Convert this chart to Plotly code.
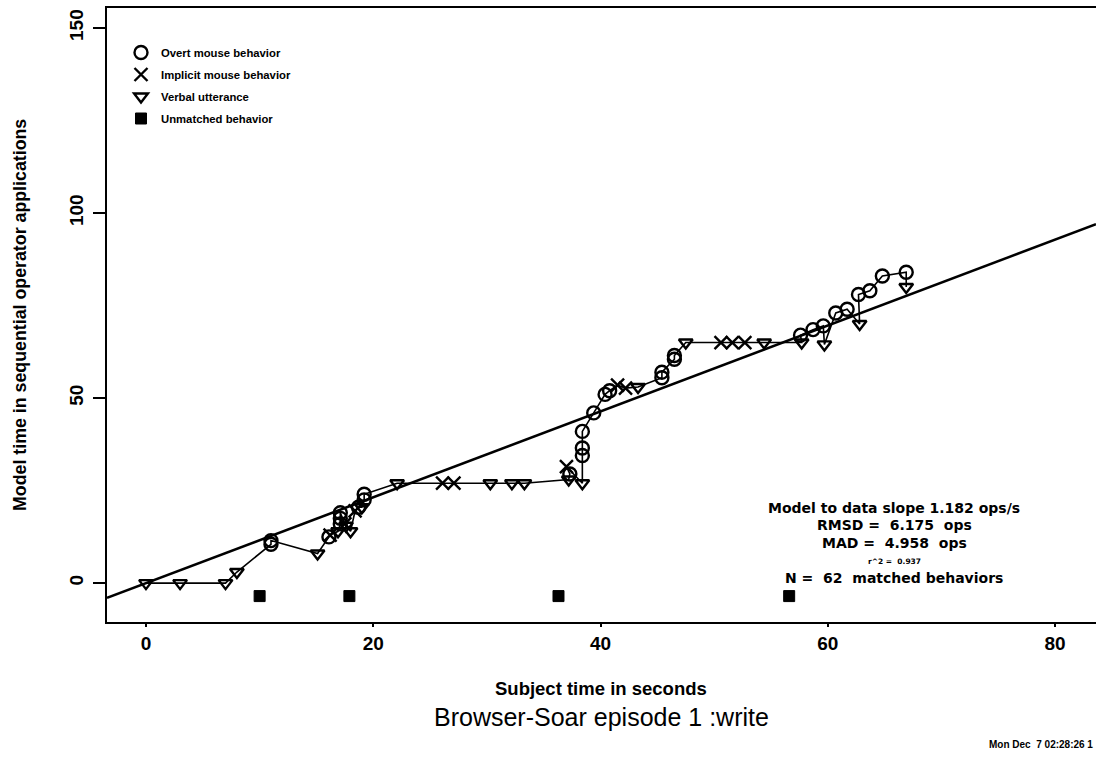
import plotly.graph_objects as go

# ---- data ----
match_time = [0, 3, 7, 8, 11, 11, 15.1, 16.1, 16.2, 16.9, 17.1, 17.1, 17.1, 17.5, 17.6, 18.0,
              18.4, 18.7, 19.0, 19.2, 19.2, 22.1, 26.1, 27.1, 30.3, 32.2, 33.3, 37.2, 37.3, 37.0,
              38.4, 38.4, 38.4, 38.4, 39.4, 40.4, 40.8, 41.5, 42.2, 43.3, 45.4, 45.4, 46.5, 46.5,
              47.5, 50.6, 51.6, 52.7, 54.4, 57.7, 57.6, 58.7, 59.6, 59.7, 60.7, 61.7, 62.8, 62.7,
              63.7, 64.8, 66.9, 66.9]
match_model = [0, 0, 0, 3, 10.5, 11.5, 8, 12.5, 13, 14, 16, 17.5, 19, 16, 15.5, 14,
               19.5, 20.5, 20.5, 22.5, 24, 27, 27, 27, 27, 27, 27, 28, 29.5, 31.5,
               27, 34.5, 36.5, 41, 46, 51, 52, 53.5, 52.7, 53, 55.5, 57, 60.5, 61.5,
               65, 65, 65, 65, 65, 65, 67, 68.5, 69.5, 64.5, 73, 74, 70, 78,
               79, 83, 84, 80]
match_kind = ["V", "V", "V", "V", "O", "O", "V", "O", "X", "V", "O", "O", "O", "X", "V", "V",
              "X", "O", "V", "O", "O", "V", "X", "X", "V", "V", "V", "V", "O", "X",
              "V", "O", "O", "O", "O", "O", "O", "X", "X", "V", "O", "O", "O", "O",
              "V", "X", "X", "X", "V", "V", "O", "O", "O", "V", "O", "O", "V", "O",
              "O", "O", "O", "V"]

unmatched_time = [10.0, 17.9, 36.3, 56.6]
unmatched_model = [-3.5, -3.5, -3.5, -3.5]

fit_slope = 1.16
fit_intercept = 0.0

x_ticks = [0, 20, 40, 60, 80]
y_ticks = [0, 50, 100, 150]
x_range = [-3.43, 83.6]
y_range = [-10.5, 155.4]

kinds = [("O", "Overt mouse behavior", "circle-open", 13),
         ("X", "Implicit mouse behavior", "x-thin-open", 13),
         ("V", "Verbal utterance", "triangle-down-open", 12)]

stats_lines = ["Model to data slope 1.182 ops/s", "RMSD =  6.175  ops", "MAD =  4.958  ops",
               "r^2 =  0.937", "N =  62  matched behaviors"]

FONT = "Liberation Sans, Arial, sans-serif"
WIDE = "DejaVu Sans, sans-serif"

# ---- figure ----
W, H = 1096, 757
L, R, T, B = 107, 0, 8, 135

fig = go.Figure()

# regression line
fig.add_trace(go.Scatter(
    x=x_range, y=[fit_intercept + fit_slope * v for v in x_range],
    mode="lines", line=dict(color="black", width=2.6), showlegend=False, hoverinfo="skip"))

# connecting path in time order
fig.add_trace(go.Scatter(
    x=match_time, y=match_model, mode="lines",
    line=dict(color="black", width=1.6), showlegend=False, hoverinfo="skip"))

for i, (k, name, sym, size) in enumerate(kinds):
    xs = [t for t, kk in zip(match_time, match_kind) if kk == k]
    ys = [m for m, kk in zip(match_model, match_kind) if kk == k]
    fig.add_trace(go.Scatter(
        x=xs, y=ys, mode="markers", name=name, legendgroup=f"g{i}",
        marker=dict(symbol=sym, size=size, color="black", line=dict(color="black", width=2.4))))

fig.add_trace(go.Scatter(
    x=unmatched_time, y=unmatched_model, mode="markers", name="Unmatched behavior",
    legendgroup="g3",
    marker=dict(symbol="square", size=11, color="black", line=dict(color="black", width=1))))


def px2paper(px, py):
    return (px - L) / (W - L - R), (H - B - py) / (H - T - B)


annotations = []
stat_y = [508, 525, 543, 561, 578]
stat_size = [14, 14, 14, 7.5, 14]
for txt, py, fs in zip(stats_lines, stat_y, stat_size):
    xp, yp = px2paper(894, py)
    annotations.append(dict(x=xp, y=yp, xref="paper", yref="paper", text=txt, showarrow=False,
                            xanchor="center", yanchor="middle",
                            font=dict(family=WIDE, size=fs, color="black", weight="bold")))

xp, yp = px2paper(601, 688)
annotations.append(dict(x=xp, y=yp, xref="paper", yref="paper", text="Subject time in seconds",
                        showarrow=False, xanchor="center", yanchor="middle",
                        font=dict(family=FONT, size=18.5, color="black", weight="bold")))
xp, yp = px2paper(601, 717)
annotations.append(dict(x=xp, y=yp, xref="paper", yref="paper", text="Browser-Soar episode 1 :write",
                        showarrow=False, xanchor="center", yanchor="middle",
                        font=dict(family=FONT, size=25, color="black")))
xp, yp = px2paper(20, 315)
annotations.append(dict(x=xp, y=yp, xref="paper", yref="paper",
                        text="Model time in sequential operator applications",
                        showarrow=False, xanchor="center", yanchor="middle", textangle=-90,
                        font=dict(family=FONT, size=17.8, color="black", weight="bold")))
xp, yp = px2paper(1095, 744)
annotations.append(dict(x=xp, y=yp, xref="paper", yref="paper",
                        text="Mon Dec \u00a07 02:28:26 1",
                        showarrow=False, xanchor="right", yanchor="middle",
                        font=dict(family=FONT, size=10, color="black", weight="bold")))

lx, ly = px2paper(121, 38)

fig.update_layout(
    width=W, height=H,
    margin=dict(l=L, r=R, t=T, b=B),
    paper_bgcolor="white", plot_bgcolor="white",
    font=dict(family=FONT, color="black"),
    annotations=annotations,
    legend=dict(x=lx, y=ly, xanchor="left", yanchor="top", bgcolor="rgba(0,0,0,0)",
                font=dict(family=FONT, size=11.3, color="black", weight="bold"),
                tracegroupgap=3, itemsizing="trace"),
    xaxis=dict(range=x_range, tickvals=x_ticks, ticktext=[str(v) for v in x_ticks],
               showgrid=False, zeroline=False, showline=True, linecolor="black", linewidth=2,
               mirror=True, ticks="outside", ticklen=3, tickwidth=1.5, tickcolor="black",
               tickfont=dict(family=FONT, size=19, color="black", weight="bold")),
    yaxis=dict(range=y_range, tickvals=y_ticks, ticktext=[str(v) for v in y_ticks],
               showgrid=False, zeroline=False, showline=True, linecolor="black", linewidth=2,
               ticks="outside", ticklen=12, tickwidth=1.5, tickcolor="black", tickangle=-90,
               ticklabelstandoff=2,
               tickfont=dict(family=FONT, size=19, color="black", weight="bold")),
)

fig.write_html("out.html", post_script="document.body.style.margin='0';",
               config={"displayModeBar": False})
